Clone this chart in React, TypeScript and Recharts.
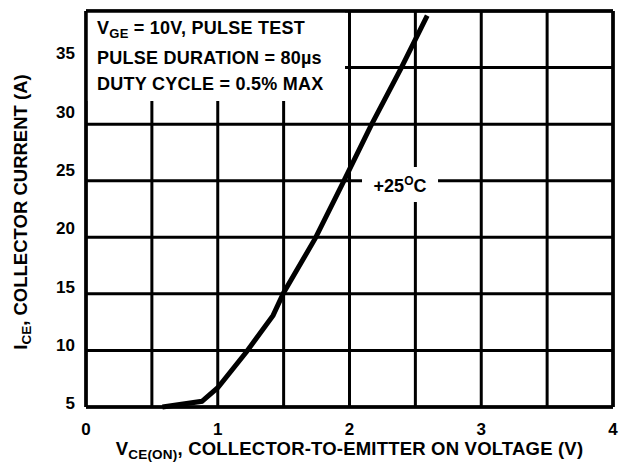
import React from "react";
import {
  LineChart,
  Line,
  XAxis,
  YAxis,
  CartesianGrid,
  ReferenceArea,
  ReferenceLine,
} from "recharts";

const voltage = [0.58, 0.88, 1.0, 1.22, 1.42, 1.5, 1.74, 1.95, 2.16, 2.39, 2.59];
const current = [5.0, 5.5, 6.7, 9.9, 13.1, 15.1, 19.9, 24.8, 29.8, 34.9, 39.6];

const xGridTicks = [0, 0.5, 1, 1.5, 2, 2.5, 3, 3.5, 4];
const yGridTicks = [5, 10, 15, 20, 25, 30, 35, 40];
const yLabelTicks = [5, 10, 15, 20, 25, 30, 35];

const conditions = ["= 10V, PULSE TEST", "PULSE DURATION = 80\u00b5s", "DUTY CYCLE = 0.5% MAX"];

const data = voltage.map((v, i) => ({ v, i: current[i] }));

const FONT = "'Liberation Sans', Arial, Helvetica, sans-serif";
const tickStyle = { fill: "#000", fontSize: 17, fontWeight: "bold", fontFamily: FONT };

const ConditionsLabel = (props: any) => {
  const vb = props.viewBox;
  const x = vb.x + 11;
  return (
    <g fontFamily={FONT} fontWeight="bold" fontSize={18} fill="#000" letterSpacing={0.25}>
      <text x={x} y={vb.y + 22.5}>
        <tspan>V</tspan>
        <tspan dy={4} fontSize={13}>GE</tspan>
        <tspan dy={-4}> {conditions[0]}</tspan>
      </text>
      <text x={x} y={vb.y + 52.5}>{conditions[1]}</text>
      <text x={x} y={vb.y + 79}>{conditions[2]}</text>
    </g>
  );
};

const TempLabel = (props: any) => {
  const vb = props.viewBox;
  return (
    <text
      x={vb.x + vb.width / 2}
      y={vb.y + 24.7}
      textAnchor="middle"
      fontFamily={FONT}
      fontWeight="bold"
      fontSize={18}
      fill="#000"
    >
      <tspan>+25</tspan>
      <tspan dy={-7} fontSize={12}>O</tspan>
      <tspan dy={7}>C</tspan>
    </text>
  );
};

const XTitle = (props: any) => {
  const vb = props.viewBox;
  return (
    <text
      x={vb.x + vb.width / 2}
      y={vb.y + 47.5}
      textAnchor="middle"
      fontFamily={FONT}
      fontWeight="bold"
      fontSize={18.5}
      letterSpacing={0.2}
      fill="#000"
    >
      <tspan>V</tspan>
      <tspan dy={4} fontSize={13.5}>CE(ON)</tspan>
      <tspan dy={-4}>, COLLECTOR-TO-EMITTER ON VOLTAGE (V)</tspan>
    </text>
  );
};

const YTitle = () => {
  const cx = 20;
  const cy = 212;
  return (
    <text
      x={cx}
      y={cy}
      dy="0.36em"
      transform={`rotate(-90, ${cx}, ${cy})`}
      textAnchor="middle"
      fontFamily={FONT}
      fontWeight="bold"
      fontSize={18.5}
      fill="#000"
    >
      <tspan>I</tspan>
      <tspan dy={4} fontSize={13.5}>CE</tspan>
      <tspan dy={-4}>, COLLECTOR CURRENT (A)</tspan>
    </text>
  );
};

export default function App() {
  return (
    <div style={{ position: "absolute", left: 0, top: 0, background: "#fff" }}>
      <LineChart width={623} height={466} data={data} margin={{ top: 11, right: 10, bottom: 0, left: 0 }}>
        <CartesianGrid
          yAxisId="grid"
          stroke="#000"
          strokeWidth={3}
          strokeOpacity={1}
        />
        <XAxis
          dataKey="v"
          type="number"
          domain={[0, 4]}
          ticks={xGridTicks}
          tickFormatter={(t: number) => (Number.isInteger(t) ? String(t) : "")}
          height={59}
          axisLine={false}
          tickLine={false}
          tickSize={6}
          tickMargin={10}
          tick={tickStyle}
          interval={0}
          label={<XTitle />}
        />
        <YAxis
          yAxisId="lbl"
          type="number"
          domain={[4.68, 38.63]}
          ticks={yLabelTicks}
          allowDataOverflow
          width={86}
          axisLine={false}
          tickLine={false}
          tickSize={6}
          tickMargin={5}
          tick={tickStyle}
          interval={0}
          label={<YTitle />}
        />
        <YAxis
          yAxisId="grid"
          type="number"
          domain={[5, 40]}
          ticks={yGridTicks}
          width={0}
          hide
        />
        <ReferenceArea
          yAxisId="grid"
          x1={0}
          x2={1.966}
          y1={32.05}
          y2={40}
          fill="#fff"
          fillOpacity={1}
          stroke="none"
          label={<ConditionsLabel />}
        />
        <ReferenceArea
          yAxisId="grid"
          x1={2.095}
          x2={2.672}
          y1={23.12}
          y2={26.21}
          fill="#fff"
          fillOpacity={1}
          stroke="none"
          label={<TempLabel />}
        />
        <ReferenceLine yAxisId="grid" x={0} stroke="#000" strokeWidth={3.5} />
        <ReferenceLine yAxisId="grid" x={4} stroke="#000" strokeWidth={3.5} />
        <ReferenceLine yAxisId="grid" y={5} stroke="#000" strokeWidth={3.5} />
        <ReferenceLine yAxisId="grid" y={40} stroke="#000" strokeWidth={3.5} />
        <Line
          yAxisId="grid"
          dataKey="i"
          type="linear"
          stroke="#000"
          strokeWidth={5}
          dot={false}
          isAnimationActive={false}
        />
      </LineChart>
    </div>
  );
}
